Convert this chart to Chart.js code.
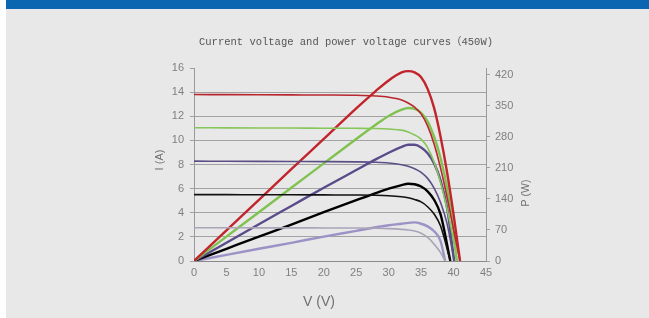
<!DOCTYPE html>
<html>
<head>
<meta charset="utf-8">
<script src="https://cdn.jsdelivr.net/npm/chart.js@4.4.1/dist/chart.umd.min.js"></script>
<style>
  html, body { margin: 0; padding: 0; background: #fff; }
  #page { position: relative; width: 649px; height: 318px; overflow: hidden; }
  #panel { position: absolute; left: 6px; top: 0; width: 643px; height: 318px; background: #e8e8e8; }
  #bar { position: absolute; left: 6px; top: 0; width: 643px; height: 9px; background: #0b66b2; }
  #wrap { position: absolute; left: 0; top: 0; width: 649px; height: 318px; }
</style>
</head>
<body>
<div id="page">
  <div id="panel"></div>
  <div id="bar"></div>
  <div id="wrap"><canvas id="chart"></canvas></div>
</div>
<script>
// irradiance levels, top to bottom
const levels = ['1000', '800', '600', '400', '200'];
const colorsP = ['#c2242c', '#80c24f', '#5a4b8a', '#000000', '#9d92c6'];
const colorsI = ['#b8262e', '#86c65a', '#5c4f86', '#111111', '#aaa4b8'];

// voltage (V) points per curve
const volt1000 = [0, 5, 10, 15, 20, 25, 28, 30, 32, 33, 34, 35, 36, 37, 38, 39, 40, 41];
const volt800 = [0, 5, 10, 15, 20, 25, 28, 30, 32, 33, 34, 35, 36, 37, 38, 39, 40, 40.5];
const volt600 = [0, 5, 10, 15, 20, 25, 28, 30, 32, 33, 34, 35, 36, 37, 38, 39, 40.1];
const volt400 = [0, 5, 10, 15, 20, 25, 28, 30, 32, 33, 34, 35, 36, 37, 38, 39.5];
const volt200 = [0, 5, 10, 15, 20, 25, 28, 30, 32, 33, 34, 35, 36, 37, 38, 38.7];

// current (A)
const amp1000 = [13.8, 13.79, 13.78, 13.77, 13.76, 13.74, 13.68, 13.58, 13.35, 13.1, 12.75, 12.2, 11.2, 9.7, 7.7, 5.3, 2.6, 0];
const amp800 = [11.05, 11.04, 11.03, 11.02, 11.01, 11.0, 10.98, 10.94, 10.85, 10.7, 10.45, 10.1, 9.4, 8.2, 6.5, 4.3, 1.7, 0];
const amp600 = [8.28, 8.27, 8.26, 8.25, 8.24, 8.22, 8.19, 8.13, 7.98, 7.85, 7.65, 7.35, 6.85, 6.05, 4.85, 3.1, 0];
const amp400 = [5.5, 5.5, 5.49, 5.49, 5.48, 5.47, 5.45, 5.41, 5.32, 5.24, 5.1, 4.9, 4.5, 3.9, 2.9, 0];
const amp200 = [2.76, 2.76, 2.75, 2.75, 2.74, 2.73, 2.71, 2.68, 2.62, 2.57, 2.48, 2.3, 1.95, 1.4, 0.7, 0];

// power (W)
const watt1000 = [0, 69, 138, 207, 275, 344, 383, 407, 425, 428, 425, 414, 388, 345, 280, 200, 105, 0];
const watt800 = [0, 55, 110, 165, 220, 275, 307, 327, 341, 345, 343, 334, 315, 280, 232, 165, 70, 0];
const watt600 = [0, 41, 83, 124, 165, 205, 229, 244, 257, 262, 262, 256, 243, 220, 182, 120, 0];
const watt400 = [0, 27.5, 55, 82, 110, 137, 153, 163, 171, 174, 173, 168, 157, 138, 105, 0];
const watt200 = [0, 13.8, 27.5, 41, 55, 68, 76, 80.5, 84, 86, 87, 84, 78, 67, 45, 0];

const xTicks = [0, 5, 10, 15, 20, 25, 30, 35, 40, 45];
const iTicks = [0, 2, 4, 6, 8, 10, 12, 14, 16];
const pTicks = [0, 70, 140, 210, 280, 350, 420];

const volts = [volt1000, volt800, volt600, volt400, volt200];
const amps = [amp1000, amp800, amp600, amp400, amp200];
const watts = [watt1000, watt800, watt600, watt400, watt200];

const pts = (xs, ys) => xs.map((v, i) => ({ x: v, y: ys[i] }));

const datasets = [];
levels.forEach((lv, k) => {
    datasets.push({
        label: 'I ' + lv,
        data: pts(volts[k], amps[k]),
        yAxisID: 'y',
        borderColor: colorsI[k],
        borderWidth: 1.6,
        pointRadius: 0,
        cubicInterpolationMode: 'monotone'
    });
});
levels.forEach((lv, k) => {
    datasets.push({
        label: 'P ' + lv,
        data: pts(volts[k], watts[k]),
        yAxisID: 'y1',
        borderColor: colorsP[k],
        borderWidth: 2.4,
        pointRadius: 0,
        cubicInterpolationMode: 'monotone'
    });
});

const tickFont = { family: '"Liberation Sans", Arial, sans-serif', size: 11 };
const tickColor = '#808080';

const textPlugin = {
    id: 'texts',
    afterDraw(chart) {
        const c = chart.ctx;
        c.save();
        c.textAlign = 'center';
        c.textBaseline = 'middle';
        c.fillStyle = '#555';
        c.font = '10.5px "Liberation Mono", "Noto Sans CJK JP", monospace';
        c.fillText('Current voltage and power voltage curves（450W)', 346, 42);

        c.fillStyle = '#707070';
        c.font = '14px "Liberation Sans", Arial, sans-serif';
        c.fillText('V (V)', 319, 302);

        c.font = '11px "Liberation Sans", Arial, sans-serif';
        c.translate(160, 160);
        c.rotate(-Math.PI / 2);
        c.fillText('I (A)', 0, 0);
        c.restore();

        c.save();
        c.textAlign = 'center';
        c.textBaseline = 'middle';
        c.fillStyle = '#707070';
        c.font = '10.5px "Liberation Sans", Arial, sans-serif';
        c.translate(526, 193);
        c.rotate(-Math.PI / 2);
        c.fillText('P (W)', 0, 0);
        c.restore();
    }
};

new Chart(document.getElementById('chart'), {
    type: 'line',
    data: { datasets: datasets },
    plugins: [textPlugin],
    options: {
        responsive: true,
        maintainAspectRatio: false,
        animation: false,
        layout: { padding: { top: 68, left: 0, right: 0, bottom: 0 } },
        plugins: {
            legend: { display: false },
            tooltip: { enabled: false },
            title: { display: false }
        },
        scales: {
            x: {
                type: 'linear',
                min: 0,
                max: 45,
                afterBuildTicks: (s) => { s.ticks = xTicks.map(v => ({ value: v })); },
                afterFit: (s) => { s.height = 57; },
                grid: { display: true, drawOnChartArea: false, drawTicks: false },
                border: { display: true, color: '#8a8a8a', width: 1 },
                ticks: { font: tickFont, color: tickColor, padding: 5, maxRotation: 0 }
            },
            y: {
                position: 'left',
                min: 0,
                max: 16,
                afterBuildTicks: (s) => { s.ticks = iTicks.map(v => ({ value: v })); },
                afterFit: (s) => { s.width = 194; },
                grid: {
                    color: (ctx) => (ctx.tick && ctx.tick.value === 16) ? 'rgba(0,0,0,0)' : '#a2a2a2',
                    tickLength: 4,
                    tickColor: '#a2a2a2'
                },
                border: { display: true, color: '#9a9a9a', width: 1 },
                ticks: { font: tickFont, color: tickColor, padding: 6 }
            },
            y1: {
                position: 'right',
                min: 0,
                max: 435,
                afterBuildTicks: (s) => { s.ticks = pTicks.map(v => ({ value: v })); },
                afterFit: (s) => { s.width = 163; },
                grid: { drawOnChartArea: false, tickLength: 4, color: '#a2a2a2' },
                border: { display: true, color: '#9a9a9a', width: 1 },
                ticks: { font: tickFont, color: tickColor, padding: 5 }
            }
        }
    }
});
</script>
</body>
</html>
